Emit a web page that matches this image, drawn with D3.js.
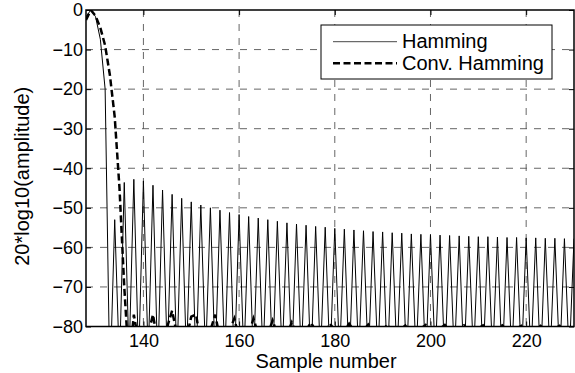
<!DOCTYPE html>
<html lang="en">
<head>
    <meta charset="UTF-8">
    <title>Hamming spectrum</title>
    <script src="https://d3js.org/d3.v7.min.js"></script>
    <style>
        body { margin: 0; background: #fff; }
        svg { display: block; }
        text { font-family: "Liberation Sans", Arial, Helvetica, sans-serif; fill: #000; }
        .tick-label { font-size: 18px; }
        .axis-title { font-size: 20px; }
        .legend-text { font-size: 20px; }
    </style>
</head>
<body>
<script>
    var w = 575;
    var h = 373;
    var margin = { top: 10, right: 1, bottom: 46.5, left: 86 };

    // sample numbers of the first point in each series
    var sampleStart = 128;

    // Hamming, dB, samples 128..230
    var hammingDb = [
        -1.7, 0, -1.7, -7.4, -20, -95, -53, -90, -43.6, -88,
        -42.8, -89, -43.2, -88, -44.3, -90, -45.5, -88, -46.6, -89,
        -47.6, -88, -48.5, -90, -49.3, -88, -50.0, -89, -50.6, -88,
        -51.2, -90, -51.7, -88, -52.2, -89, -52.6, -88, -53.0, -90,
        -53.4, -88, -53.8, -89, -54.1, -88, -54.4, -90, -54.7, -88,
        -54.9, -89, -55.2, -88, -55.4, -90, -55.6, -88, -55.8, -89,
        -56.0, -88, -56.1, -90, -56.3, -88, -56.4, -89, -56.6, -88,
        -56.7, -90, -56.8, -88, -56.9, -89, -57.0, -88, -57.1, -90,
        -57.2, -88, -57.3, -89, -57.3, -88, -57.4, -90, -57.5, -88,
        -57.5, -89, -57.6, -88, -57.6, -90, -57.7, -88, -57.7, -89,
        -57.8, -88, -57.8
    ];

    // Conv. Hamming, dB, samples 128..230
    var convDb = [
        -2.5, 0, -1.5, -4.5, -9, -16.5, -27, -45, -70, -90,
        -77, -84, -88, -82, -77, -84, -88, -80, -76, -82,
        -88, -83, -77.5, -77, -84, -88, -81, -77, -83, -88,
        -81, -78, -83, -87, -82, -78, -82, -86, -82, -78.5,
        -82, -85, -82, -79, -82, -84, -81, -79, -81, -84,
        -81, -79.3, -81, -83, -81, -79.3, -81, -83, -81, -79.5,
        -81, -83, -81, -79.5, -81, -82.5, -80.5, -79.5, -81, -82.5,
        -80.5, -79.6, -81, -82.5, -80.5, -79.6, -81, -82, -80.5, -79.7,
        -81, -82, -80.5, -79.7, -81, -82, -80.5, -79.7, -81, -82,
        -80.5, -79.8, -81, -82, -80.5, -79.8, -81, -82, -80.5, -79.8,
        -81, -82, -80.5
    ];

    var xTicks = [140, 160, 180, 200, 220];
    var yTicks = [0, -10, -20, -30, -40, -50, -60, -70, -80];
    var legendLabels = ["Hamming", "Conv. Hamming"];

    var pw = w - margin.left - margin.right;
    var ph = h - margin.top - margin.bottom;

    var svg = d3.select("body")
        .append("svg")
        .attr("width", w)
        .attr("height", h);

    var xScale = d3.scaleLinear()
        .domain([128, 230])
        .range([0, pw]);

    var yScale = d3.scaleLinear()
        .domain([-80, 0])
        .range([ph, 0]);

    var g = svg.append("g")
        .attr("transform", "translate(" + margin.left + "," + margin.top + ")");

    g.append("clipPath")
        .attr("id", "plot-clip")
        .append("rect")
        .attr("width", pw)
        .attr("height", ph);

    // grid lines
    g.append("g")
        .attr("class", "grid")
        .selectAll("line.vgrid")
        .data(xTicks)
        .enter()
        .append("line")
        .attr("x1", function (d) { return xScale(d); })
        .attr("x2", function (d) { return xScale(d); })
        .attr("y1", 0)
        .attr("y2", ph);

    g.select(".grid")
        .selectAll("line.hgrid")
        .data(yTicks.slice(1, -1))
        .enter()
        .append("line")
        .attr("x1", 0)
        .attr("x2", pw)
        .attr("y1", function (d) { return yScale(d); })
        .attr("y2", function (d) { return yScale(d); });

    g.selectAll(".grid line")
        .attr("stroke", "#555")
        .attr("stroke-width", 0.9)
        .attr("stroke-dasharray", "7,7");

    // series
    function toPoints(values) {
        return values.map(function (v, i) { return [sampleStart + i, v]; });
    }

    var line = d3.line()
        .x(function (d) { return xScale(d[0]); })
        .y(function (d) { return yScale(d[1]); });

    var series = g.append("g").attr("clip-path", "url(#plot-clip)");

    series.append("path")
        .datum(toPoints(hammingDb))
        .attr("d", line)
        .attr("fill", "none")
        .attr("stroke", "#000")
        .attr("stroke-width", 1);

    series.append("path")
        .datum(toPoints(convDb))
        .attr("d", line)
        .attr("fill", "none")
        .attr("stroke", "#000")
        .attr("stroke-width", 2.5)
        .attr("stroke-dasharray", "7,3.5");

    // axes with inward ticks on all four sides
    var tickLen = 5;
    var minusFormat = function (d) { return String(d).replace("-", "\u2212"); };

    var xAxis = d3.axisBottom(xScale).tickValues(xTicks).tickSizeInner(-tickLen).tickSizeOuter(0).tickPadding(7);
    var yAxis = d3.axisLeft(yScale).tickValues(yTicks).tickSizeInner(-tickLen).tickSizeOuter(0).tickPadding(3)
        .tickFormat(minusFormat);

    var gx = g.append("g")
        .attr("transform", "translate(0," + ph + ")")
        .call(xAxis);

    var gy = g.append("g").call(yAxis);

    g.append("g")
        .call(d3.axisTop(xScale).tickValues(xTicks).tickSizeInner(-tickLen).tickSizeOuter(0).tickFormat(""));

    g.append("g")
        .attr("transform", "translate(" + pw + ",0)")
        .call(d3.axisRight(yScale).tickValues(yTicks).tickSizeInner(-tickLen).tickSizeOuter(0).tickFormat(""));

    g.selectAll(".domain").remove();
    g.selectAll(".tick line").attr("stroke", "#000").attr("stroke-width", 1);
    g.selectAll(".tick text")
        .attr("class", "tick-label")
        .attr("font-size", null)
        .attr("font-family", null);

    gx.selectAll(".tick text").attr("dy", "0.75em");

    // frame
    g.append("rect")
        .attr("width", pw)
        .attr("height", ph)
        .attr("fill", "none")
        .attr("stroke", "#000")
        .attr("stroke-width", 1.5);

    // axis titles
    svg.append("text")
        .attr("class", "axis-title")
        .attr("x", margin.left + pw / 2 - 4)
        .attr("y", 368)
        .attr("text-anchor", "middle")
        .text("Sample number");

    svg.append("text")
        .attr("class", "axis-title")
        .attr("transform", "translate(29," + (margin.top + ph / 2 + 8) + ") rotate(-90)")
        .attr("text-anchor", "middle")
        .text("20*log10(amplitude)");

    // legend
    var legend = svg.append("g").attr("transform", "translate(321,25)");

    legend.append("rect")
        .attr("width", 231)
        .attr("height", 54)
        .attr("fill", "#fff")
        .attr("stroke", "#000")
        .attr("stroke-width", 1);

    var legendStyles = [
        { stroke: "#333", width: 0.9, dash: null },
        { stroke: "#000", width: 2.5, dash: "7,3.5" }
    ];

    legendLabels.forEach(function (label, i) {
        var ly = 16.7 + i * 21.6;
        legend.append("line")
            .attr("x1", 12)
            .attr("x2", 76)
            .attr("y1", ly)
            .attr("y2", ly)
            .attr("stroke", legendStyles[i].stroke)
            .attr("stroke-width", legendStyles[i].width)
            .attr("stroke-dasharray", legendStyles[i].dash);
        legend.append("text")
            .attr("class", "legend-text")
            .attr("x", 81)
            .attr("y", ly + 6.3)
            .text(label);
    });
</script>
</body>
</html>
